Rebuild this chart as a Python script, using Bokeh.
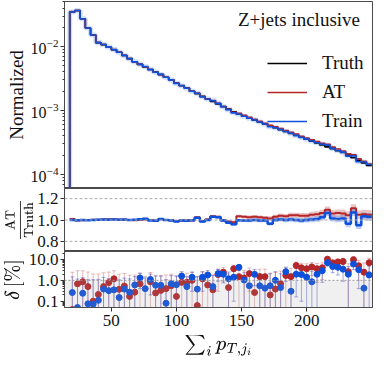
import numpy as np
from bokeh.plotting import figure
from bokeh.layouts import column
from bokeh.models import (Legend, LegendItem, Label, Span, BoxAnnotation, FixedTicker,
                          PrintfTickFormatter, Whisker, ColumnDataSource, TeeHead, Range1d)
from bokeh.embed import file_html
from bokeh.resources import INLINE

# ---------------- data ----------------
bin_lo = 18
bin_width = 4

truth = [0.0348, 0.0367, 0.0273, 0.0195, 0.0152, 0.0115, 0.0107, 0.00977, 0.00891, 0.00813,
         0.00724, 0.00646, 0.00575, 0.00525, 0.00479, 0.00437, 0.00398, 0.00363, 0.00331, 0.00302,
         0.00269, 0.00245, 0.00224, 0.00200, 0.00182, 0.00166, 0.00151, 0.00138, 0.00126, 0.00115,
         0.00105, 0.000955, 0.000871, 0.000813, 0.000759, 0.000708, 0.000661, 0.000617, 0.000575, 0.000537,
         0.000501, 0.000468, 0.000437, 0.000407, 0.000380, 0.000355, 0.000331, 0.000309, 0.000288, 0.000269,
         0.000251, 0.000234, 0.000219, 0.000200, 0.000182, 0.000166, 0.000151, 0.000138]

ratio_at = [1.010, 0.995, 0.998, 1.000, 1.002, 1.003, 1.005, 1.006, 1.008, 1.005,
            1.003, 1.000, 0.998, 1.000, 1.004, 1.000, 0.996, 1.008, 1.000, 0.998,
            0.990, 0.996, 0.998, 0.996, 1.025, 0.990, 1.005, 1.035, 1.030, 0.998,
            0.985, 0.980, 1.035, 1.030, 1.025, 1.030, 1.025, 1.020, 1.015, 1.030,
            1.040, 1.035, 1.045, 1.045, 1.040, 1.040, 1.050, 1.055, 1.065, 1.095,
            1.060, 1.065, 1.060, 1.045, 1.110, 1.050, 1.055, 1.050]
ratio_tr = [1.000, 0.998, 1.000, 0.998, 1.000, 1.002, 1.004, 1.003, 1.005, 1.002,
            1.004, 1.000, 1.002, 1.006, 1.012, 0.996, 0.994, 1.010, 1.000, 0.996,
            0.985, 0.995, 0.994, 0.997, 1.020, 0.985, 1.000, 1.030, 1.025, 0.995,
            0.975, 0.960, 0.998, 0.995, 0.995, 1.000, 0.995, 0.995, 0.965, 1.000,
            1.005, 1.000, 1.005, 1.000, 0.995, 1.000, 1.005, 1.010, 1.025, 1.065,
            1.015, 1.010, 1.015, 0.965, 1.070, 0.950, 1.035, 1.030]
err_at = [0.012, 0.006, 0.005, 0.005, 0.005, 0.005, 0.005, 0.006, 0.006, 0.006,
          0.006, 0.007, 0.007, 0.007, 0.007, 0.008, 0.008, 0.008, 0.008, 0.009,
          0.009, 0.009, 0.010, 0.010, 0.011, 0.011, 0.012, 0.012, 0.013, 0.013,
          0.014, 0.014, 0.015, 0.016, 0.016, 0.017, 0.018, 0.018, 0.019, 0.020,
          0.021, 0.022, 0.023, 0.024, 0.025, 0.026, 0.027, 0.028, 0.030, 0.031,
          0.032, 0.034, 0.035, 0.037, 0.038, 0.040, 0.042, 0.044]
err_tr = [0.010, 0.005, 0.004, 0.004, 0.004, 0.004, 0.005, 0.005, 0.005, 0.005,
          0.005, 0.006, 0.006, 0.006, 0.006, 0.007, 0.007, 0.007, 0.007, 0.008,
          0.008, 0.008, 0.009, 0.009, 0.010, 0.010, 0.011, 0.011, 0.012, 0.012,
          0.013, 0.013, 0.014, 0.014, 0.015, 0.015, 0.016, 0.016, 0.017, 0.018,
          0.019, 0.020, 0.021, 0.022, 0.023, 0.024, 0.025, 0.026, 0.027, 0.028,
          0.029, 0.030, 0.031, 0.032, 0.033, 0.034, 0.035, 0.036]

delta_at = [0.04, 0.68, 0.85, 0.50, 0.10, 0.21, 0.50, 0.78, 1.18, 0.37,
            0.53, 0.17, 0.27, 0.68, 0.03, 0.85, 0.25, 0.33, 0.40, 0.55,
            0.17, 0.80, 0.80, 1.00, 0.062, 1.17, 0.60, 0.35, 1.90, 2.45,
            0.45, 3.60, 1.50, 1.30, 2.10, 0.26, 1.50, 1.50, 0.20, 0.38,
            0.68, 1.70, 1.50, 5.10, 4.00, 3.60, 4.40, 3.60, 4.00, 10.3,
            6.80, 7.50, 8.00, 2.60, 9.70, 5.00, 2.45, 7.00]
delta_tr = [0.26, 0.05, 0.24, 0.075, 0.072, 0.11, 0.38, 0.32, 0.35, 0.15,
            0.38, 0.27, 0.60, 1.30, 0.40, 1.10, 0.58, 0.58, 0.08, 0.68,
            0.62, 1.60, 0.50, 1.40, 0.38, 1.40, 1.80, 0.50, 2.10, 1.95,
            1.20, 1.40, 4.20, 1.03, 0.55, 1.95, 0.55, 0.42, 0.55, 1.00,
            0.45, 2.60, 0.30, 1.96, 1.90, 1.42, 0.85, 1.96, 2.90, 7.00,
            4.60, 4.20, 3.40, 1.96, 6.00, 3.20, 0.42, 1.80]
sig_at = [2.4, 2.2, 2.0, 2.0, 1.9, 1.8, 1.8, 1.7, 1.7, 1.6,
          1.6, 1.6, 1.5, 1.5, 1.5, 1.5, 1.5, 1.4, 1.4, 1.4,
          1.4, 1.4, 1.4, 1.4, 1.5, 1.5, 1.5, 1.5, 1.6, 1.6,
          1.6, 1.7, 1.7, 1.7, 1.8, 1.8, 1.9, 1.9, 2.0, 2.0,
          2.1, 2.2, 2.3, 2.4, 2.5, 2.6, 2.7, 2.8, 2.9, 3.0,
          3.2, 3.3, 3.4, 3.6, 3.8, 4.0, 4.2, 4.4]
sig_tr = [1.2, 1.1, 1.1, 1.0, 1.0, 1.0, 1.0, 0.9, 0.9, 0.9,
          0.9, 0.9, 0.9, 0.9, 0.9, 0.9, 1.0, 1.0, 1.0, 1.0,
          1.0, 1.0, 1.0, 1.1, 1.1, 1.1, 1.1, 1.2, 1.2, 1.2,
          1.3, 1.3, 1.3, 1.4, 1.4, 1.4, 1.5, 1.5, 1.5, 1.6,
          1.6, 1.7, 1.7, 1.8, 1.8, 1.9, 1.9, 2.0, 2.1, 2.2,
          2.3, 2.4, 2.5, 2.6, 2.7, 2.8, 2.9, 3.0]

x_ticks = [50, 100, 150, 200]
ratio_ticks = [0.8, 1.0, 1.2]
delta_ticks = [0.1, 1.0, 10.0]
labels = ["Truth", "AT", "Train"]
title_text = "Z+jets inclusive"

# ---------------- derived ----------------
n = len(truth)
edges = bin_lo + bin_width * np.arange(n + 1)
centers = edges[:-1] + bin_width / 2
truth_a = np.array(truth)
at_a = truth_a * np.array(ratio_at)
tr_a = truth_a * np.array(ratio_tr)

def step_xy(vals, floor):
    xs = np.concatenate([[edges[0]], edges])
    ys = np.concatenate([[floor], vals, [vals[-1]]])
    return xs, ys

RED = "#b3262a"
BLUE = "#0d50dc"
BLACK = "#000000"
FONT = "'Liberation Serif'"
FRAME = "#4a4a4a"

x_range = Range1d(14, 250.6)

def style(p):
    p.grid.visible = False
    p.outline_line_color = FRAME
    p.outline_line_width = 1
    for ax in p.axis:
        ax.axis_line_color = FRAME
        ax.major_tick_line_color = "#333333"
        ax.minor_tick_line_color = "#333333"
        ax.major_tick_out = 4
        ax.major_tick_in = 0
        ax.minor_tick_out = 2
        ax.minor_tick_in = 0
        ax.major_label_text_font = FONT
        ax.major_label_text_font_size = "17px"
        ax.major_label_text_color = "#111111"
        ax.axis_label_text_font = FONT
        ax.axis_label_text_font_style = "normal"
        ax.axis_label_text_color = "#111111"
        ax.major_label_standoff = 2
        ax.axis_label_standoff = 1

common = dict(width=374, output_backend="svg", toolbar_location=None,
              min_border_left=54, min_border_right=2, x_range=x_range)

# ---------------- top panel ----------------
p1 = figure(height=188, y_axis_type="log", y_range=Range1d(6.0e-5, 0.0507),
            min_border_top=1, min_border_bottom=0, **common)
style(p1)
p1.xaxis.visible = False
p1.yaxis.axis_label = "Normalized"
p1.yaxis.axis_label_text_font_size = "19px"
p1.yaxis.major_label_text_font_size = "16px"

xs, ys_t = step_xy(truth_a, 1e-7)
_, ys_a = step_xy(at_a, 1e-7)
_, ys_r = step_xy(tr_a, 1e-7)
p1.step(xs, ys_r, mode="after", line_color=BLUE, line_width=5, line_alpha=0.18)
r_t = p1.step(xs, ys_t, mode="after", line_color=BLACK, line_width=1.6)
r_a = p1.step(xs, ys_a, mode="after", line_color=RED, line_width=1.6)
r_r = p1.step(xs, ys_r, mode="after", line_color=BLUE, line_width=1.6)

legend = Legend(items=[LegendItem(label=labels[0], renderers=[r_t]),
                       LegendItem(label=labels[1], renderers=[r_a]),
                       LegendItem(label=labels[2], renderers=[r_r])],
                location=(203, 56), padding=0, spacing=7,
                glyph_width=40, glyph_height=20, label_height=20, label_standoff=15,
                label_text_font=FONT, label_text_font_size="19px",
                label_text_color="#111111",
                border_line_color=None, background_fill_alpha=0)
p1.add_layout(legend)
p1.add_layout(Label(x=241, y=0.0262, text=title_text, text_align="right",
                    text_baseline="middle", text_font=FONT, text_font_size="19px",
                    text_color="#111111"))

# ---------------- ratio panel ----------------
p2 = figure(height=63, y_range=Range1d(0.705, 1.295),
            min_border_top=0, min_border_bottom=0, **common)
style(p2)
p2.xaxis.visible = False
p2.yaxis.ticker = FixedTicker(ticks=ratio_ticks, minor_ticks=[])
p2.yaxis.formatter = PrintfTickFormatter(format="%.1f")
p2.yaxis.axis_label = r"$$\frac{\mathrm{AT}}{\mathrm{Truth}}$$"
p2.yaxis.axis_label_text_font_size = "12px"
for loc in ratio_ticks:
    p2.add_layout(Span(location=loc, dimension="width", line_color="#aaaaaa",
                       line_dash="3 2", line_width=1))

ra = np.array(ratio_at)
rr = np.array(ratio_tr)
ea = np.array(err_at)
er = np.array(err_tr)
_, ra_s = step_xy(ra, ra[0])
_, rr_s = step_xy(rr, rr[0])
_, ra_lo = step_xy(ra - ea, ra[0] - ea[0])
_, ra_hi = step_xy(ra + ea, ra[0] + ea[0])
_, rr_lo = step_xy(rr - er, rr[0] - er[0])
_, rr_hi = step_xy(rr + er, rr[0] + er[0])
p2.varea_step(x=xs, y1=ra_lo, y2=ra_hi, step_mode="after", fill_color=RED, fill_alpha=0.28)
p2.varea_step(x=xs, y1=rr_lo, y2=rr_hi, step_mode="after", fill_color=BLUE, fill_alpha=0.28)
p2.step(xs, ra_s, mode="after", line_color=RED, line_width=2)
p2.step(xs, rr_s, mode="after", line_color=BLUE, line_width=2.5)

# ---------------- delta panel ----------------
p3 = figure(height=107, y_axis_type="log", y_range=Range1d(0.05, 24.0),
            min_border_top=0, min_border_bottom=45, **common)
style(p3)
p3.xaxis.ticker = FixedTicker(ticks=x_ticks, minor_ticks=[])
p3.xaxis.axis_label = r"$$\textstyle\sum_i p_{T,j_i}$$"
p3.xaxis.axis_label_text_font_size = "19px"
p3.xaxis.major_label_standoff = 3
p3.xaxis.axis_label_standoff = 6
p3.yaxis.ticker = FixedTicker(ticks=delta_ticks,
                              minor_ticks=[0.06, 0.07, 0.08, 0.09, 0.2, 0.3, 0.4, 0.5, 0.6, 0.7, 0.8, 0.9,
                                           2, 3, 4, 5, 6, 7, 8, 9, 20])
p3.yaxis.formatter = PrintfTickFormatter(format="%.1f")
p3.yaxis.axis_label = r"$$\delta\,[\%]$$"
p3.yaxis.axis_label_text_font_size = "19px"
p3.add_layout(BoxAnnotation(top=1.0, fill_color="#9a9a9a", fill_alpha=0.15, line_alpha=0))
p3.add_layout(Span(location=1.0, dimension="width", line_color="#999999",
                   line_dash="2 2", line_width=1))

da = np.array(delta_at)
dt = np.array(delta_tr)
sa = np.array(sig_at)
st = np.array(sig_tr)
src_a = ColumnDataSource(dict(x=centers, y=da, up=da + sa, lo=np.maximum(da - sa, 0.01)))
src_t = ColumnDataSource(dict(x=centers, y=dt, up=dt + st, lo=np.maximum(dt - st, 0.01)))
p3.add_layout(Whisker(source=src_a, base="x", upper="up", lower="lo", line_color=RED,
                      line_alpha=0.3, line_width=1,
                      upper_head=TeeHead(size=4, line_color=RED, line_alpha=0.3),
                      lower_head=TeeHead(size=4, line_color=RED, line_alpha=0.3)))
p3.add_layout(Whisker(source=src_t, base="x", upper="up", lower="lo", line_color="#3a40b8",
                      line_alpha=0.45, line_width=1,
                      upper_head=TeeHead(size=4, line_color="#3a40b8", line_alpha=0.45),
                      lower_head=TeeHead(size=4, line_color="#3a40b8", line_alpha=0.45)))
p3.scatter("x", "y", source=src_a, size=6, fill_color=RED, line_color=RED)
p3.scatter("x", "y", source=src_t, size=6, fill_color=BLUE, line_color=BLUE)

layout = column(p1, p2, p3, spacing=0)
open("out.html", "w").write(file_html(layout, INLINE))
